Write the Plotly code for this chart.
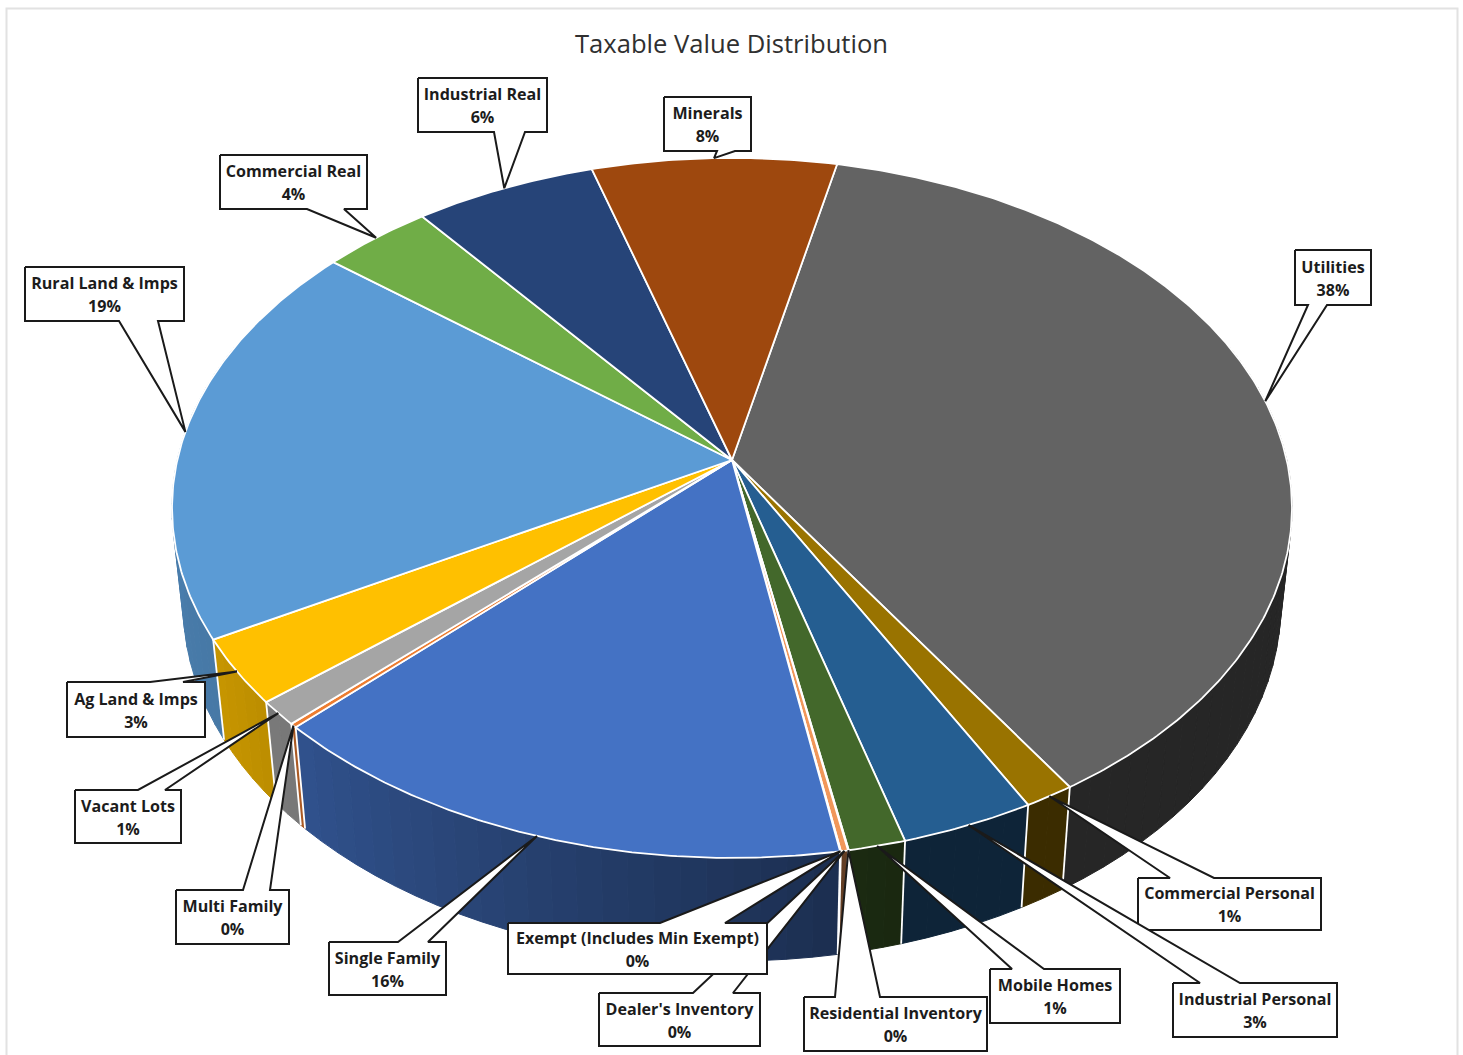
import numpy as np
import plotly.graph_objects as go

# ---- data (percent of taxable value, clockwise from the first slice) ----
categories = ["Utilities", "Commercial Personal", "Industrial Personal", "Mobile Homes",
              "Residential Inventory", "Dealer's Inventory", "Exempt (Includes Min Exempt)",
              "Single Family", "Multi Family", "Vacant Lots", "Ag Land & Imps",
              "Rural Land & Imps", "Commercial Real", "Industrial Real", "Minerals"]
values = [37.5, 1.28, 3.41, 1.45, 0.02, 0.18, 0.02, 15.28, 0.18, 1.12, 3.0, 18.87, 3.63, 6.0, 8.06]
pct_labels = ["38%", "1%", "3%", "1%", "0%", "0%", "0%", "16%", "0%", "1%", "3%", "19%", "4%", "6%", "8%"]
colors = ["#636363", "#997300", "#255E91", "#43682B", "#698ED0", "#F1975A", "#B7B7B7",
          "#4472C4", "#ED7D31", "#A5A5A5", "#FFC000", "#5B9BD5", "#70AD47", "#264478", "#9E480E"]
title_text = "Taxable Value Distribution"

# ---- layout constants: projection and callout boxes (page pixels) ----
W, H = 1463, 1055
CX, CY = 732.0, 460.0
A, B, K = 554.7, 343.4, 0.137      # top disc perspective
M, N = 0.02, 99.0                  # depth of the wall
START = 12.4
# box: x0, x1, y0, y1, side carrying the wedge, wedge base a, wedge base b
boxes = {
    "Utilities": (1295, 1371, 250, 305, "b", 1308, 1327),
    "Commercial Personal": (1138, 1321, 878, 930, "t", 1170, 1214),
    "Industrial Personal": (1173, 1337, 983, 1037, "t", 1200, 1240),
    "Mobile Homes": (990, 1120, 969, 1023, "t", 1012, 1044),
    "Residential Inventory": (804, 987, 997, 1051, "t", 835, 880),
    "Dealer's Inventory": (599, 760, 993, 1046, "t", 693, 733),
    "Exempt (Includes Min Exempt)": (508, 767, 923, 974, "t", 660, 725),
    "Single Family": (329, 446, 942, 995, "t", 398, 428),
    "Multi Family": (176, 289, 890, 944, "t", 243, 270),
    "Vacant Lots": (75, 181, 790, 843, "t", 138, 165),
    "Ag Land & Imps": (67, 205, 682, 737, "t", 150, 183),
    "Rural Land & Imps": (25, 184, 267, 321, "b", 119, 158),
    "Commercial Real": (220, 367, 155, 209, "b", 307, 344),
    "Industrial Real": (418, 547, 78, 132, "b", 494, 525),
    "Minerals": (664, 751, 97, 151, "b", 717, 735),
}
WHITE_LINE = dict(color="white", width=1.8)


def project(theta_deg, lower=False):
    t = np.radians(np.asarray(theta_deg, dtype=float))
    x, y = np.sin(t), np.cos(t)
    z = 1.0 if lower else 0.0
    w = 1 + K * y + M * z
    return CX + A * x / w, CY + (N * z - B * y) / w


def hex_rgb(h):
    return np.array([int(h[i:i + 2], 16) for i in (1, 3, 5)], dtype=float)


def wall_color(h, theta):
    f = np.interp(theta % 360, [0, 165, 172, 225, 240, 270, 360], [.39, .39, .42, .72, .78, .82, .82])
    r = hex_rgb(h) * f
    return "rgb(%d,%d,%d)" % tuple(r)


fig = go.Figure()

shares = np.array(values) / sum(values) * 360
edges = START + np.concatenate([[0], np.cumsum(shares)])

# frame of the picture
fig.add_shape(type="rect", x0=6.5, x1=1457.5, y0=8.5, y1=1070,
              line=dict(color="#E2E2E2", width=2), layer="below")

# side walls
for i, c in enumerate(colors):
    a0, a1 = edges[i], edges[i + 1]
    if a1 < 70 or a0 > 290:
        continue
    a0c, a1c = max(a0, 70), min(a1, 290)
    n = max(1, int(np.ceil((a1c - a0c) / 2.5)))
    steps = np.linspace(a0c, a1c, n + 1)
    for s0, s1 in zip(steps[:-1], steps[1:]):
        arc = np.linspace(s0, s1, 6)
        tx, ty = project(arc)
        bx, by = project(arc[::-1], lower=True)
        col = wall_color(c, (s0 + s1) / 2)
        fig.add_trace(go.Scatter(x=np.r_[tx, bx, tx[0]], y=np.r_[ty, by, ty[0]], mode="lines",
                                 fill="toself", fillcolor=col, line=dict(color=col, width=1),
                                 hoverinfo="skip", showlegend=False))

# white seams between the visible walls
for e in edges:
    if 90 < e % 360 < 270:
        tx, ty = project([e])
        bx, by = project([e], lower=True)
        fig.add_trace(go.Scatter(x=[tx[0], bx[0]], y=[ty[0], by[0]], mode="lines",
                                 line=WHITE_LINE, hoverinfo="skip", showlegend=False))

# top faces
for i, (name, c) in enumerate(zip(categories, colors)):
    arc = np.linspace(edges[i], edges[i + 1], max(3, int(shares[i] * 2)))
    px, py = project(arc)
    fig.add_trace(go.Scatter(x=np.r_[CX, px, CX], y=np.r_[CY, py, CY], mode="lines",
                             fill="toself", fillcolor=c, line=WHITE_LINE, name=name,
                             hoverinfo="name", showlegend=False))

# callouts, in series order so later ones lie over earlier ones
annotations = []
for i, name in enumerate(categories):
    x0, x1, y0, y1, side, ba, bb = boxes[name]
    mid = (edges[i] + edges[i + 1]) / 2
    tipx, tipy = project([mid])
    tipx, tipy = float(tipx[0]), float(tipy[0])
    if side == "t":
        xs = [x0, ba, tipx, bb, x1, x1, x0, x0]
        ys = [y0, y0, tipy, y0, y0, y1, y1, y0]
    else:
        xs = [x0, x1, x1, bb, tipx, ba, x0, x0]
        ys = [y0, y0, y1, y1, tipy, y1, y1, y0]
    fig.add_trace(go.Scatter(x=xs, y=ys, mode="lines", fill="toself", fillcolor="white",
                             line=dict(color="#1A1A1A", width=2), hoverinfo="skip", showlegend=False))
    ymid = (y0 + y1) / 2 + 2.6
    fig.add_trace(go.Scatter(x=[(x0 + x1) / 2, (x0 + x1) / 2], y=[ymid - 11.5, ymid + 11.5],
                             mode="text", text=[name.replace("&", "&amp;"), pct_labels[i]],
                             textposition="middle center",
                             textfont=dict(family="Open Sans", size=16.1, color="#1C1C1C", weight=700),
                             hoverinfo="skip", showlegend=False))

annotations.append(dict(x=731.5, y=43, xref="x", yref="y", text=title_text, showarrow=False,
                        font=dict(family="Open Sans", size=25.6, color="#303030")))

fig.update_layout(
    width=W, height=H, margin=dict(l=0, r=0, t=0, b=0), autosize=False,
    paper_bgcolor="white", plot_bgcolor="white", showlegend=False, annotations=annotations,
    xaxis=dict(range=[0, W], visible=False, fixedrange=True),
    yaxis=dict(range=[H, 0], visible=False, fixedrange=True),
)
fig.write_html("out.html", config=dict(displayModeBar=False),
               post_script="document.body.style.margin='0';document.documentElement.style.overflow='hidden';")
